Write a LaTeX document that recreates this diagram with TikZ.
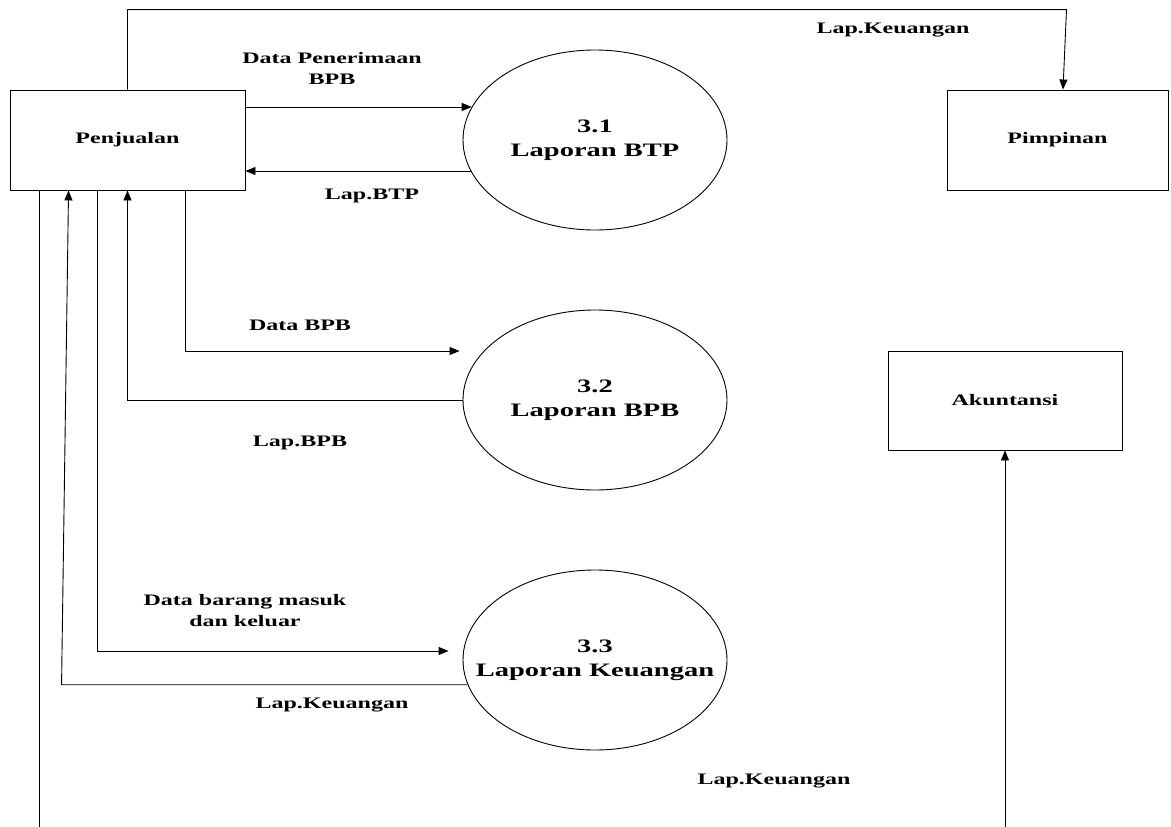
\documentclass[tikz,border=0pt]{standalone}
\usepackage{fontspec}
\setmainfont{Liberation Serif}[FakeStretch=1.5]
\usetikzlibrary{arrows.meta,shapes.geometric,calc}
% a text line that does not widen its node
\newcommand{\zw}[1]{\makebox[0pt]{#1}}
\begin{document}
\begin{tikzpicture}[x=1pt,y=-1pt,
  entity/.style={draw, line width=0.9pt, rectangle, inner sep=0pt,
    font=\bfseries\fontsize{16}{20}\selectfont},
  proc/.style={draw, line width=0.9pt, ellipse, minimum width=264pt,
    minimum height=180pt, inner sep=0pt, align=center,
    font=\bfseries\fontsize{19}{24}\selectfont},
  flow/.style={line width=0.9pt},
  arr/.style={flow, -{Triangle[length=10pt,width=8pt]}},
  lbl/.style={align=center, inner sep=0pt,
    font=\bfseries\fontsize{16}{21}\selectfont}]

\useasboundingbox (0,0) rectangle (1171,827);

% external entities
\node[entity, minimum width=235pt, minimum height=100pt] (pen) at (127.5,140) {Penjualan};
\node[entity, minimum width=221pt, minimum height=100pt] (pim) at (1057.5,140) {Pimpinan};
\node[entity, minimum width=234pt, minimum height=99pt] (akun) at (1005,400.5) {Akuntansi};

% processes
\node[proc] (p1) at (595,140) {\zw{3.1}\\\zw{Laporan BTP}};
\node[proc] (p2) at (595,400) {\zw{3.2}\\\zw{Laporan BPB}};
\node[proc] (p3) at (595,660) {\zw{3.3}\\\zw{Laporan Keuangan}};

% flows between Penjualan and 3.1
\draw[arr] (pen.east |- p1.165) -- (p1.165);
\draw[arr] (p1.194) -- (pen.east |- p1.194);

% flows between Penjualan and 3.2
\draw[arr] ($(pen.south west)+(176,0)$) |- ($(p2.west)+(-3,-49)$);
\draw[arr] (p2.west) -| (pen.south);

% flows between Penjualan and 3.3
\draw[arr] ($(pen.south west)+(88,0)$) |- ($(p3.west)+(-14,-9)$);
\path ($(pen.south west)+(52,0)$) coordinate (lkx);
\draw[arr] (p3.191) -- (lkx |- p3.191) -- ($(pen.south west)+(59,0)$);

% report to Pimpinan
\draw[arr] (pen.north) |- ($(pim.north)+(9,-80)$) -- ($(pim.north)+(5.5,0)$);

% report to Akuntansi
\coordinate (lbot) at ($(pen.south west)+(30,637)$);
\draw[flow] ($(pen.south west)+(30,0)$) -- (lbot);
\coordinate (rbot) at (akun.south |- lbot);
\draw[arr] (rbot) -- (akun.south);

% flow labels
\node[lbl] at (332,68.5) {Data Penerimaan\\BPB};
\node[lbl] at (372,196) {Lap.BTP};
\node[lbl] at (300,325) {Data BPB};
\node[lbl] at (300,443) {Lap.BPB};
\node[lbl] at (245,610.5) {Data barang masuk\\dan keluar};
\node[lbl] at (332,705) {Lap.Keuangan};
\node[lbl] at (893,30) {Lap.Keuangan};
\node[lbl] at (774,781) {Lap.Keuangan};
\end{tikzpicture}
\end{document}
